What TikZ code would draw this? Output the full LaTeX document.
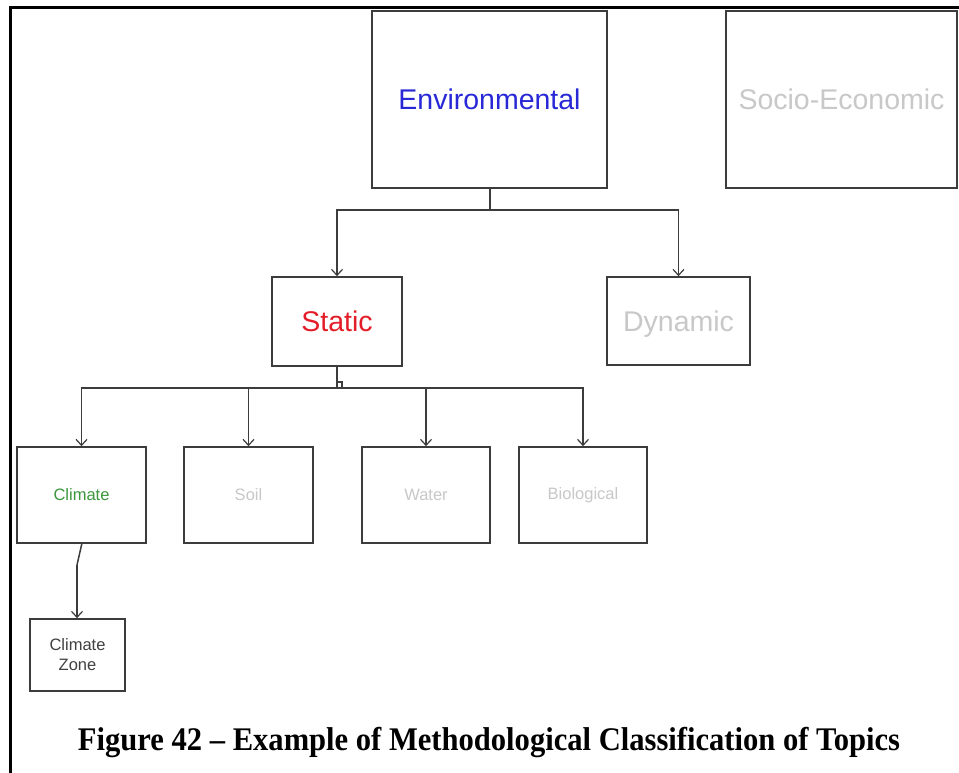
\documentclass[tikz,border=0pt]{standalone}
\usepackage{fontspec}
\setmainfont{Liberation Sans}
\newfontfamily\capfont[Ligatures=TeX]{Liberation Serif}
\usetikzlibrary{arrows.meta}
\definecolor{boxline}{RGB}{60,60,60}
\definecolor{envblue}{RGB}{40,40,215}
\definecolor{statred}{RGB}{228,30,40}
\definecolor{climgreen}{RGB}{60,150,60}
\definecolor{dimgray}{RGB}{200,200,200}
\tikzset{
  box/.style={draw=boxline, line width=1.6pt, rectangle, inner sep=0pt, align=center},
  bigbox/.style={box, font=\fontsize{28.5}{30}\selectfont, text depth=0pt},
  smallbox/.style={box, font=\fontsize{16.5}{20}\selectfont},
  conn/.style={draw=boxline, line width=1.5pt, -{Straight Barb[length=6pt,width=11pt,line width=1.2pt]}},
  plain/.style={draw=boxline, line width=1.5pt},
}
\begin{document}
\begin{tikzpicture}[x=1pt,y=-1pt]
\useasboundingbox (0,0) rectangle (959,772);
\clip (0,0) rectangle (959,772);
\fill[white] (0,0) rectangle (959,772);
% frame
\draw[line width=3pt, black] (10,780) -- (10,7) -- (970,7);
% nodes
\node[bigbox, minimum width=235, minimum height=177, text=envblue] (env) at (489.5,99.5) {Environmental};
\node[bigbox, minimum width=231, minimum height=177, text=dimgray] (socio) at (841.5,99.5) {Socio-Economic};
\node[bigbox, minimum width=130, minimum height=89, text=statred] (static) at (337,321.5) {Static};
\node[bigbox, minimum width=143, minimum height=88, text=dimgray] (dynamic) at (678.5,321) {Dynamic};
\node[smallbox, minimum width=129, minimum height=96, text=climgreen] (climate) at (81.5,495) {Climate};
\node[smallbox, minimum width=129, minimum height=96, text=dimgray] (soil) at (248.5,495) {Soil};
\node[smallbox, minimum width=128, minimum height=96, text=dimgray] (water) at (426,495) {Water};
\node[smallbox, minimum width=128, minimum height=96, text=dimgray] (bio) at (583,495) {Biological};
\node[smallbox, minimum width=95, minimum height=72, text=black!75] (zone) at (77.5,655) {Climate\\Zone};
% bus coordinates
\coordinate (tb) at (490,210);
\coordinate (sb) at (337,388);
% top connectors
\draw[plain] (env.south -| tb) -- (tb);
\draw[conn] (tb) -| (static.north);
\draw[conn] (tb) -| (dynamic.north);
% static connectors
\draw[plain] (static.south) -- (sb);
\draw[plain] (sb) ++(0,-6) -- ++(5,0) -- ++(0,6);
\draw[conn] (sb) -| (climate.north);
\draw[conn] (sb) -| (soil.north);
\draw[conn] (sb) -| (water.north);
\draw[conn] (sb) -| (bio.north);
% climate zone
\coordinate (cz) at (77,565);
\draw[plain] (82,543) -- (cz);
\draw[conn] (cz) -- (zone.north -| cz);
% caption
\node[anchor=base, inner sep=0pt] (cap) at (489,750) {\resizebox{822pt}{\height}{\capfont\bfseries\fontsize{33}{36}\selectfont Figure 42 – Example of Methodological Classification of Topics}};
\end{tikzpicture}
\end{document}
